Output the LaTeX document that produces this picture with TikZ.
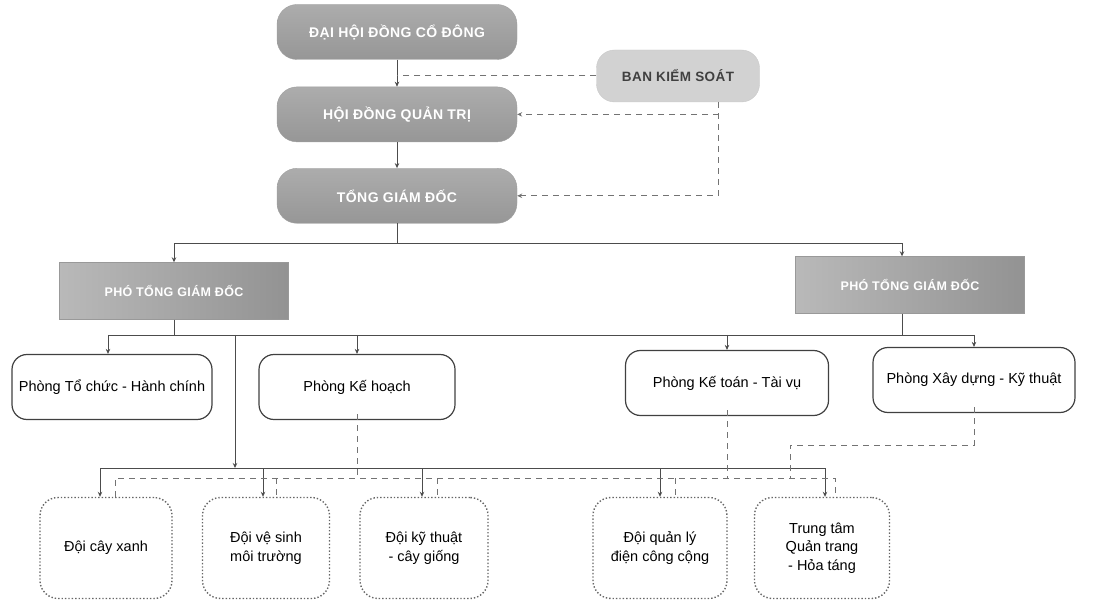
\documentclass[tikz,border=0pt]{standalone}
\usepackage{fontspec}
\setmainfont{Liberation Sans}
\newfontfamily\capsfont[LetterSpace=3]{Liberation Sans}
\usetikzlibrary{positioning,arrows.meta}

\begin{document}
\begin{tikzpicture}[x=1pt, y=-1pt,
  every node/.style={font=\fontsize{14.5}{18.5}\selectfont},
  head/.style={rounded corners=20pt, minimum width=240pt, minimum height=55pt,
    top color=gray!65, bottom color=gray!82, draw=gray!75, text=white,
    font=\capsfont\fontsize{14}{16}\selectfont\bfseries},
  audit/.style={rounded corners=18pt, minimum width=163pt, minimum height=52pt,
    fill=gray!35, draw=gray!42, text=black!75,
    font=\capsfont\fontsize{13.5}{16}\selectfont\bfseries},
  vice/.style={rectangle, minimum width=229pt, minimum height=57pt,
    left color=gray!55, right color=gray!85, draw=gray!80, text=white,
    font=\capsfont\fontsize{12.5}{15}\selectfont\bfseries},
  dept/.style={draw=black!75, line width=1.2pt, rounded corners=15pt,
    minimum height=65pt, align=center},
  team/.style={draw=black!60, dotted, line width=1.4pt, rounded corners=18pt,
    minimum height=101pt, align=center},
  link/.style={-{Stealth[length=5pt, width=4.5pt]}, draw=black!70, line width=0.9pt},
  bar/.style={draw=black!70, line width=0.9pt},
  ctrl/.style={draw=black!55, line width=1pt, dash pattern=on 6pt off 5pt}]
\useasboundingbox (0,0) rectangle (1113,601);

% top of the chart
\node[head] (dh) at (397,32) {ĐẠI HỘI ĐỒNG CỔ ĐÔNG};
\node[head, below=27pt of dh] (hd) {HỘI ĐỒNG QUẢN TRỊ};
\node[head, below=26pt of hd] (tg) {TỔNG GIÁM ĐỐC};
\node[audit] (bks) at (678,76) {BAN KIỂM SOÁT};

\draw[link] (dh) -- (hd);
\draw[link] (hd) -- (tg);
\draw[ctrl] (bks.west) -- (dh.south |- bks.west);
\coordinate (bk) at ([xshift=40pt]bks.south);
\draw[ctrl, -{Stealth[length=5pt, width=4.5pt]}] (bk) |- (hd.east);
\draw[ctrl, -{Stealth[length=5pt, width=4.5pt]}] (bk) |- (tg.east);

% deputies
\node[vice] (p1) at (174,291) {PHÓ TỔNG GIÁM ĐỐC};
\node[vice] (p2) at (910,285) {PHÓ TỔNG GIÁM ĐỐC};
\coordinate (bus1) at (397,243);
\draw[bar] (tg) -- (bus1);
\draw[link] (bus1) -| (p1.north);
\draw[link] (bus1) -| ([xshift=-8pt]p2.north);

% departments
\node[dept, minimum width=200pt] (d1) at (112,387) {Phòng Tổ chức - Hành chính};
\node[dept, minimum width=196pt] (d2) at (357,387) {Phòng Kế hoạch};
\node[dept, minimum width=203pt] (d3) at (727,383) {Phòng Kế toán - Tài vụ};
\node[dept, minimum width=202pt] (d4) at (974,380) {Phòng Xây dựng - Kỹ thuật};
\coordinate (bus2) at (0,335);
\draw[bar] (p1.south) -- (p1.south |- bus2);
\draw[bar] ([xshift=-8pt]p2.south) -- ([xshift=-8pt]p2.south |- bus2);
\draw[bar] ([xshift=-4pt]d1.north |- bus2) -- (d4.north |- bus2);
\draw[link] ([xshift=-4pt]d1.north |- bus2) -- ([xshift=-4pt]d1.north);
\draw[link] (d2.north |- bus2) -- (d2.north);
\draw[link] (d3.north |- bus2) -- (d3.north);
\draw[link] (d4.north |- bus2) -- (d4.north);

% teams
\node[team, minimum width=132pt] (t1) at (106,548) {Đội cây xanh};
\node[team, minimum width=127pt] (t2) at (266,548) {Đội vệ sinh\\môi trường};
\node[team, minimum width=128pt] (t3) at (424,548) {Đội kỹ thuật\\- cây giống};
\node[team, minimum width=134pt] (t4) at (660,548) {Đội quản lý\\điện công cộng};
\node[team, minimum width=135pt] (t5) at (822,548) {Trung tâm\\Quản trang\\- Hỏa táng};

\coordinate (drop) at (235,335);
\coordinate (bus3) at (235,468);
\draw[link] (drop) -- (bus3);
\draw[bar] ([xshift=-6pt]t1.north |- bus3) -- ([xshift=3pt]t5.north |- bus3);
\draw[link] ([xshift=-6pt]t1.north |- bus3) -- ([xshift=-6pt]t1.north);
\draw[link] ([xshift=-3pt]t2.north |- bus3) -- ([xshift=-3pt]t2.north);
\draw[link] ([xshift=-2pt]t3.north |- bus3) -- ([xshift=-2pt]t3.north);
\draw[link] (t4.north |- bus3) -- (t4.north);
\draw[link] ([xshift=3pt]t5.north |- bus3) -- ([xshift=3pt]t5.north);

% dashed control lines to the teams
\coordinate (dbus) at (0,478);
\draw[ctrl] ([xshift=9pt]t1.north) -- ([xshift=9pt]t1.north |- dbus)
  -- ([xshift=13pt]t5.north |- dbus) -- ([xshift=13pt]t5.north);
\draw[ctrl] ([xshift=10pt]t2.north |- dbus) -- ([xshift=10pt]t2.north);
\draw[ctrl] ([xshift=13pt]t3.north |- dbus) -- ([xshift=13pt]t3.north);
\draw[ctrl] ([xshift=15pt]t4.north |- dbus) -- ([xshift=15pt]t4.north);
\draw[ctrl] ([yshift=6pt]d2.south) -- (d2.south |- dbus);
\draw[ctrl] ([yshift=6pt]d3.south) -- (d3.south |- dbus);
\coordinate (xd) at (790,445);
\draw[ctrl] ([yshift=6pt]d4.south) |- (xd) -- (xd |- dbus);
\end{tikzpicture}
\end{document}
